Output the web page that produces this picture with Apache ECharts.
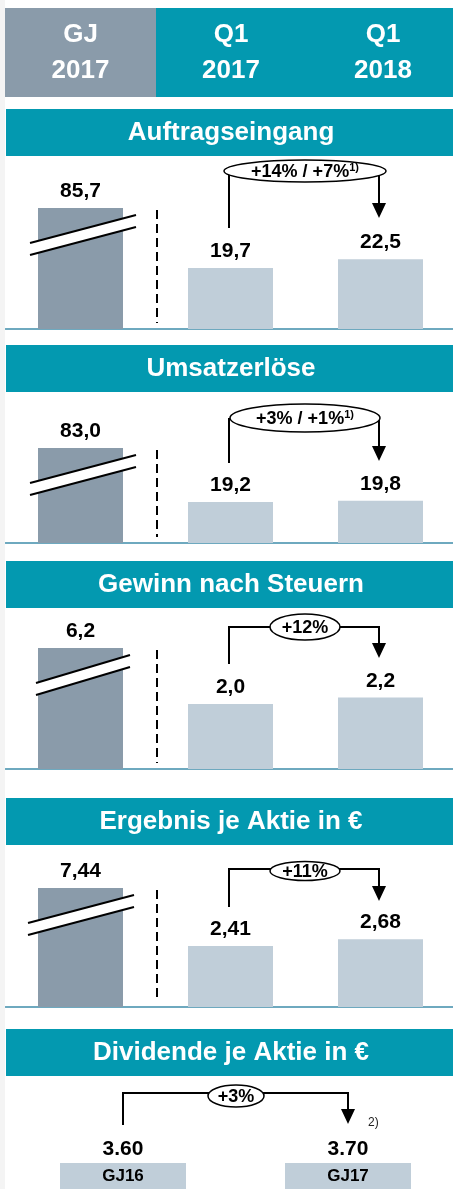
<!DOCTYPE html>
<html>
<head>
<meta charset="utf-8">
<script src="https://cdn.jsdelivr.net/npm/echarts@6/dist/echarts.min.js"></script>
<style>
  html, body { margin: 0; padding: 0; background: #fff; }
  #main { width: 453px; height: 1189px; }
</style>
</head>
<body>
<div id="main"></div>
<script>
// Werte aus der Grafik
const categories = ['GJ 2017', 'Q1 2017', 'Q1 2018'];
const auftragseingang = [85.7, 19.7, 22.5];
const umsatzerloese = [83.0, 19.2, 19.8];
const gewinn = [6.2, 2.0, 2.2];
const ergebnisJeAktie = [7.44, 2.41, 2.68];
const divCategories = ['GJ16', 'GJ17'];
const dividende = ['3.60', '3.70'];
const titles = ['Auftragseingang', 'Umsatzerlöse', 'Gewinn nach Steuern', 'Ergebnis je Aktie in €', 'Dividende je Aktie in €'];
const growth = ['+14% / +7%', '+3% / +1%', '+12%', '+11%', '+3%'];
const growthNote = ['1)', '1)', '', '', ''];

const TEAL = '#0399b0';
const DARK = '#8a9baa';
const LIGHT = '#c0ced9';
const BASE = '#6ea9bf';
const FONT = '"Liberation Sans", Arial, sans-serif';

// layout per panel: grid top (= top of the cut bar), height, y max, decimals
const panels = [
  {data: auftragseingang, top: 208, h: 121, max: 39, dec: 1},
  {data: umsatzerloese, top: 448, h: 95, max: 44.5, dec: 1},
  {data: gewinn, top: 648, h: 121, max: 3.72, dec: 1},
  {data: ergebnisJeAktie, top: 888, h: 119, max: 4.7, dec: 2}
];
const breakX = [[30, 136], [30, 136], [36, 130], [28, 134]];

const brackets = [
  {x1: 229, x2: 379, yH: null, yL: 228, tip: 218, ex: 305, ey: 171, rx: 81, ry: 11},
  {x1: 229, x2: 379, yH: null, yL: 463, tip: 461, ex: 305, ey: 418, rx: 75, ry: 14},
  {x1: 229, x2: 379, yH: 627, yL: 664, tip: 658, ex: 305, ey: 627, rx: 35, ry: 13},
  {x1: 229, x2: 379, yH: 869, yL: 907, tip: 901, ex: 305, ey: 871, rx: 35, ry: 9.5},
  {x1: 123, x2: 348, yH: 1093, yL: 1125, tip: 1124, ex: 236, ey: 1096, rx: 28, ry: 11}
];

const chart = echarts.init(document.getElementById('main'));

const gfx = [];
function txt(text, x, y, size, color) {
  gfx.push({
    type: 'text', z: 100,
    style: {text: text, x: x, y: y, fill: color, font: 'bold ' + size + 'px ' + FONT,
      align: 'center', verticalAlign: 'middle', textAlign: 'center', textVerticalAlign: 'middle'}
  });
}

// linker Rand
gfx.push({type: 'rect', z: 1, shape: {x: 0, y: 0, width: 5, height: 1189}, style: {fill: '#f4f4f4'}});

// Kopfzeile
gfx.push({type: 'rect', z: 1, shape: {x: 5, y: 8, width: 151, height: 89}, style: {fill: DARK}});
gfx.push({type: 'rect', z: 1, shape: {x: 156, y: 8, width: 297, height: 89}, style: {fill: TEAL}});
[['GJ', '2017', 80.5], ['Q1', '2017', 231], ['Q1', '2018', 383]].forEach(h => {
  txt(h[0], h[2], 35, 26, '#fff');
  txt(h[1], h[2], 71, 26, '#fff');
});

// Titelbalken
const titleYs = [109, 345, 561, 798, 1029];
titles.forEach((t, i) => {
  gfx.push({type: 'rect', z: 1, shape: {x: 6, y: titleYs[i], width: 447, height: 47}, style: {fill: TEAL}});
  txt(t, 231, titleYs[i] + 24, 26, '#fff');
});

// Achsenbruch + gestrichelte Trennlinie
panels.forEach((p, i) => {
  const a = breakX[i][0], b = breakX[i][1];
  const t = p.top;
  gfx.push({type: 'polygon', z: 100,
    shape: {points: [[a, t + 35], [b, t + 7], [b, t + 19], [a, t + 47]]},
    style: {fill: '#fff'}});
  gfx.push({type: 'line', z: 101, shape: {x1: a, y1: t + 35, x2: b, y2: t + 7}, style: {stroke: '#000', lineWidth: 2}});
  gfx.push({type: 'line', z: 101, shape: {x1: a, y1: t + 47, x2: b, y2: t + 19}, style: {stroke: '#000', lineWidth: 2}});
  gfx.push({type: 'line', z: 100, shape: {x1: 157, y1: t + 2, x2: 157, y2: t + p.h - 6},
    style: {stroke: '#000', lineWidth: 2, lineDash: [9, 5]}});
});

// Veränderungspfeile
brackets.forEach((k, i) => {
  const head = k.tip - 15;
  if (k.yH === null) {
    gfx.push({type: 'polyline', z: 100, shape: {points: [[k.x1, k.yL], [k.x1, k.ey]]}, style: {stroke: '#000', lineWidth: 2, fill: null}});
    gfx.push({type: 'polyline', z: 100, shape: {points: [[k.x2, k.ey], [k.x2, head]]}, style: {stroke: '#000', lineWidth: 2, fill: null}});
  } else {
    gfx.push({type: 'polyline', z: 100, shape: {points: [[k.x1, k.yL], [k.x1, k.yH], [k.x2, k.yH], [k.x2, head]]},
      style: {stroke: '#000', lineWidth: 2, fill: null}});
  }
  gfx.push({type: 'polygon', z: 100, shape: {points: [[k.x2 - 7, head], [k.x2 + 7, head], [k.x2, k.tip]]}, style: {fill: '#000'}});
  gfx.push({type: 'ellipse', z: 101, shape: {cx: k.ex, cy: k.ey, rx: k.rx, ry: k.ry}, style: {fill: '#fff', stroke: '#000', lineWidth: 1.5}});
  gfx.push({type: 'text', z: 102, style: {
    text: '{m|' + growth[i] + '}' + (growthNote[i] ? '{s|' + growthNote[i] + '}' : ''),
    x: k.ex, y: k.ey + 1, align: 'center', verticalAlign: 'middle', textAlign: 'center', textVerticalAlign: 'middle',
    rich: {
      m: {fontFamily: FONT, fontWeight: 'bold', fontSize: 18, fill: '#000', color: '#000', lineHeight: 20},
      s: {fontFamily: FONT, fontWeight: 'bold', fontSize: 11, fill: '#000', color: '#000', verticalAlign: 'top', lineHeight: 20}
    }
  }});
});
gfx.push({type: 'text', z: 100, style: {text: '2)', x: 368, y: 1123, fill: '#222', font: '12px ' + FONT,
  align: 'left', verticalAlign: 'middle', textAlign: 'left', textVerticalAlign: 'middle'}});

const grid = [], xAxis = [], yAxis = [], series = [];
panels.forEach((p, i) => {
  grid.push({left: 5.5, width: 450, top: p.top, height: p.h, outerBoundsMode: 'none', containLabel: false});
  xAxis.push({type: 'category', gridIndex: i, data: categories,
    axisLine: {lineStyle: {color: BASE, width: 2}}, axisTick: {show: false}, axisLabel: {show: false}});
  yAxis.push({type: 'value', gridIndex: i, min: 0, max: p.max, show: false, splitLine: {show: false}});
  series.push({
    type: 'bar', xAxisIndex: i, yAxisIndex: i, barWidth: 85, clip: true, silent: true,
    data: p.data.map((v, j) => ({value: v, itemStyle: {color: j === 0 ? DARK : LIGHT}})),
    label: {show: true, position: 'top', distance: 6, color: '#000', fontFamily: FONT, fontWeight: 'bold', fontSize: 21,
      formatter: d => d.value.toFixed(p.dec).replace('.', ',')}
  });
});

// Dividende
grid.push({left: 10.5, width: 450, top: 1100, height: 28, outerBoundsMode: 'none', containLabel: false});
xAxis.push({type: 'category', gridIndex: 4, data: divCategories,
  axisLine: {show: false}, axisTick: {show: false},
  axisLabel: {margin: 11, interval: 0,
    formatter: (v, idx) => '{v|' + dividende[idx] + '}\n{box|' + v + '}',
    rich: {
      v: {fontFamily: FONT, fontWeight: 'bold', fontSize: 21, color: '#000', lineHeight: 24, padding: [0, 0, 4, 0], align: 'center'},
      box: {fontFamily: FONT, fontWeight: 'bold', fontSize: 17, color: '#000', backgroundColor: LIGHT,
        width: 126, height: 27, lineHeight: 27, align: 'center'}
    }}});
yAxis.push({type: 'value', gridIndex: 4, min: 0, max: 1, show: false, splitLine: {show: false}});

chart.setOption({
  animation: false,
  backgroundColor: '#fff',
  grid: grid, xAxis: xAxis, yAxis: yAxis, series: series,
  graphic: {elements: gfx}
});
</script>
</body>
</html>
